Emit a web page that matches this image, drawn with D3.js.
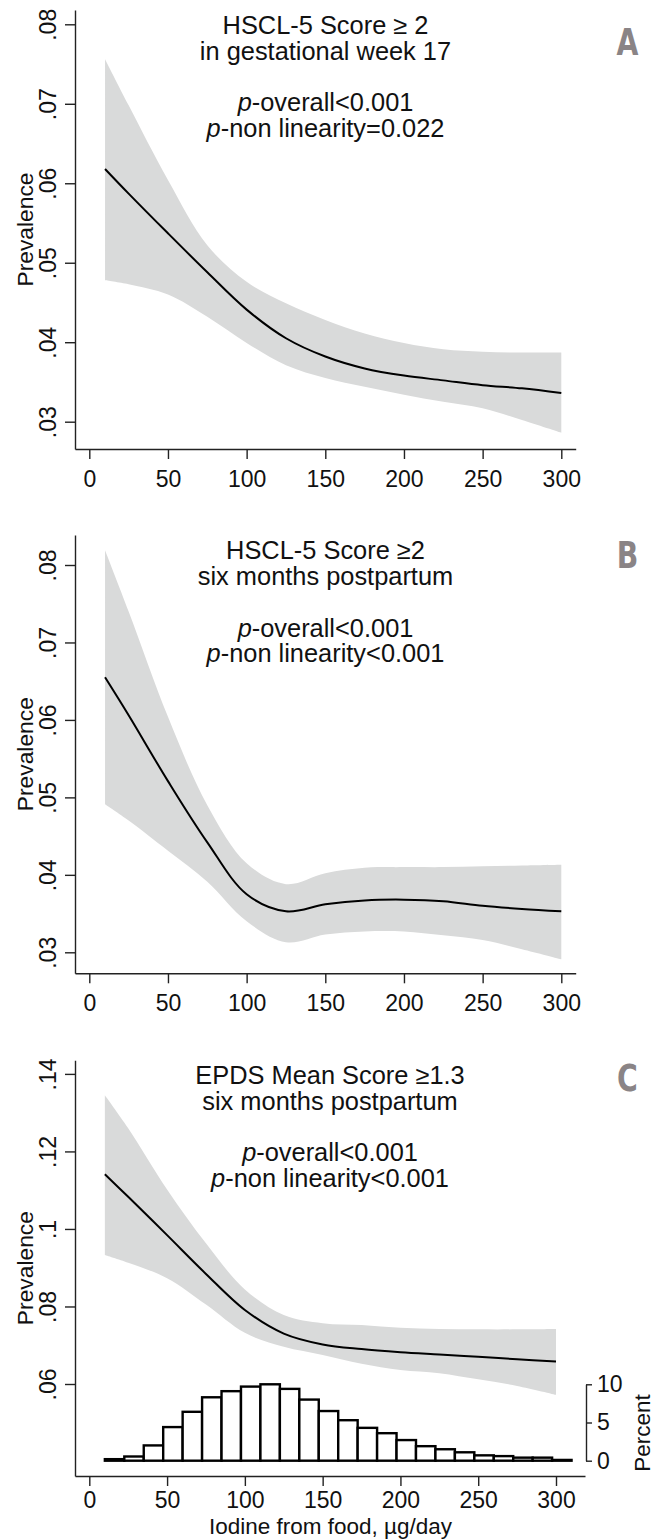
<!DOCTYPE html>
<html>
<head>
<meta charset="utf-8">
<script src="https://cdn.jsdelivr.net/npm/d3@7"></script>
<style>
  body { margin: 0; background: #fff; }
  text { font-family: "Liberation Sans", Arial, sans-serif; fill: #111; }
  .letter { font-family: "Liberation Sans Narrow", "DejaVu Sans Condensed", sans-serif; font-weight: bold; fill: #8a8486; }
</style>
</head>
<body>
<svg id="chart" width="655" height="1539"></svg>
<script>
//Iodine intake grid (µg/day) where the spline fits were read.
const xGrid = [10, 25, 50, 75, 100, 125, 150, 175, 200, 225, 250, 275, 300];

//Panel A - HSCL-5 week 17
const aFit = [.0618, .0587, .0537, .0488, .0441, .0405, .0382, .0367, .0358, .0352, .0346, .0342, .0336];
const aHi  = [.0756, .0698, .0604, .0522, .0476, .0449, .0428, .0411, .0399, .0391, .0388, .0387, .0387];
const aLo  = [.0478, .0473, .0460, .0432, .0399, .0371, .0355, .0344, .0334, .0325, .0317, .0302, .0286];

//Panel B - HSCL-5 six months postpartum
const bFit = [.0655, .0606, .0521, .0442, .0375, .0353, .0362, .0367, .0368, .0366, .0360, .0356, .0353];
const bHi  = [.0819, .0740, .0604, .0490, .0415, .0388, .0402, .0409, .0410, .0410, .0411, .0412, .0413];
const bLo  = [.0491, .0470, .0431, .0391, .0340, .0313, .0323, .0327, .0327, .0322, .0316, .0304, .0291];

//Panel C - EPDS six months postpartum
const cFit = [.1141, .1083, .0984, .0884, .0791, .0730, .0702, .0690, .0682, .0676, .0670, .0664, .0658];
const cHi  = [.1345, .1260, .1102, .0963, .0844, .0778, .0757, .0752, .0745, .0742, .0741, .0741, .0742];
const cLo  = [.0933, .0913, .0873, .0805, .0732, .0696, .0675, .0652, .0636, .0628, .0612, .0595, .0572];

//Histogram of iodine intake (percent per 12.5 µg/day bin, starting at 10)
const histStart = 10;
const histBin = 12.5;
const histPct = [0.2, 0.55, 2.0, 4.4, 6.4, 8.3, 9.1, 9.7, 10.0, 9.4, 8.0, 6.5, 5.3, 4.3, 3.6, 2.7, 1.9, 1.5, 1.1, 0.7, 0.6, 0.4, 0.4, 0.1];

const xTicks = [0, 50, 100, 150, 200, 250, 300];
const abTicks = [.03, .04, .05, .06, .07, .08];
const cTicks = [.06, .08, .10, .12, .14];
const pctTicks = [0, 5, 10];

const svg = d3.select('#chart');
const labelFont = '"Liberation Sans", Arial, sans-serif';

//Draw one panel. The layout numbers are pixel anchors for the scales.
function panel(cfg) {
  let g = svg.append('g');

  let x = d3.scaleLinear().domain([0, 300]).range([cfg.x0, cfg.x300]);
  let y = d3.scaleLinear().domain([cfg.vLo, cfg.vHi]).range([cfg.pLo, cfg.pHi]);
  //axis scales stretched to the full length of the drawn axis lines
  let xAx = x.copy().domain([x.invert(cfg.left), x.invert(cfg.right)]).range([cfg.left, cfg.right]);
  let yAx = y.copy().domain([y.invert(cfg.bottom), y.invert(cfg.top)]).range([cfg.bottom, cfg.top]);

  let rows = xGrid.map((d, i) => ({x: d, fit: cfg.fit[i], lo: cfg.lo[i], hi: cfg.hi[i]}));

  //histogram under the curves (panel C only)
  if (cfg.hist) {
    let hy = d3.scaleLinear().domain([0, 10]).range([cfg.hist.p0, cfg.hist.p10]);
    g.append('g').selectAll('rect')
      .data(histPct)
      .join('rect')
      .attr('x', (d, i) => x(histStart + i * histBin))
      .attr('width', (d, i) => x(histStart + (i + 1) * histBin) - x(histStart + i * histBin))
      .attr('y', d => hy(d))
      .attr('height', d => hy(0) - hy(d))
      .attr('fill', '#fff')
      .attr('stroke', '#000')
      .attr('stroke-width', 2.4);

    let pAxis = g.append('g')
      .attr('transform', 'translate(' + cfg.hist.axisX + ',0)')
      .call(d3.axisRight(hy).tickValues(pctTicks).tickSize(6).tickSizeOuter(0).tickPadding(5));
    pAxis.selectAll('path, line').attr('stroke', '#222').attr('stroke-width', 1.4);
    pAxis.selectAll('text').style('font-size', '23px').attr('fill', '#111').style('font-family', labelFont);

    g.append('text')
      .text('Percent')
      .style('font-size', '22.5px')
      .attr('text-anchor', 'middle')
      .attr('transform', 'translate(' + cfg.hist.labelX + ',' + cfg.hist.labelY + ')rotate(-90)');
  }

  //confidence band
  let area = d3.area()
    .x(d => x(d.x))
    .y0(d => y(d.lo))
    .y1(d => y(d.hi))
    .curve(d3.curveCatmullRom.alpha(0.5));
  g.append('path').attr('d', area(rows)).attr('fill', '#d9dada');

  //fitted prevalence
  let line = d3.line()
    .x(d => x(d.x))
    .y(d => y(d.fit))
    .curve(d3.curveCatmullRom.alpha(0.5));
  g.append('path').attr('d', line(rows)).attr('fill', 'none').attr('stroke', '#000').attr('stroke-width', 2);

  //x axis
  let xg = g.append('g')
    .attr('transform', 'translate(0,' + cfg.bottom + ')')
    .call(d3.axisBottom(xAx).tickValues(xTicks).tickSize(10).tickSizeOuter(0));
  xg.selectAll('path, line').attr('stroke', '#222').attr('stroke-width', 1.4);
  xg.selectAll('text')
    .style('font-size', '23px')
    .style('font-family', labelFont)
    .attr('fill', '#111')
    .attr('y', cfg.xLabelDy).attr('dy', 0);

  //y axis with rotated labels
  let yg = g.append('g')
    .attr('transform', 'translate(' + cfg.left + ',0)')
    .call(d3.axisLeft(yAx).tickValues(cfg.ticks).tickSize(10).tickSizeOuter(0)
      .tickFormat(d => String(+d.toFixed(2)).replace(/^0/, '')));
  yg.selectAll('path, line').attr('stroke', '#222').attr('stroke-width', 1.4);
  yg.selectAll('text')
    .style('font-size', '23px')
    .style('font-family', labelFont)
    .attr('fill', '#111')
    .attr('x', 0).attr('dy', 0)
    .attr('text-anchor', 'middle')
    .attr('transform', 'translate(-19,0)rotate(-90)');

  g.append('text')
    .text('Prevalence')
    .style('font-size', '22.8px')
    .attr('text-anchor', 'middle')
    .attr('transform', 'translate(33,' + ((cfg.top + cfg.bottom) / 2) + ')rotate(-90)');

  //title block
  let t = g.append('text').attr('text-anchor', 'middle').style('font-size', '25.4px');
  t.append('tspan').attr('x', cfg.titleX).attr('y', cfg.titleY).text(cfg.title[0]);
  t.append('tspan').attr('x', cfg.titleX).attr('y', cfg.titleY + 25.8).text(cfg.title[1]);
  let p1 = t.append('tspan').attr('x', cfg.titleX).attr('y', cfg.titleY + 77.4);
  p1.append('tspan').style('font-style', 'italic').text('p');
  p1.append('tspan').text('-overall' + cfg.pOverall);
  let p2 = g.append('text').attr('text-anchor', 'middle').style('font-size', '25.4px')
    .attr('x', cfg.titleX).attr('y', cfg.titleY + 103);
  p2.append('tspan').style('font-style', 'italic').text('p');
  p2.append('tspan').text('-non linearity' + cfg.pNonlin);

  //panel letter, squeezed to look like a narrow bold face
  g.append('text').attr('class', 'letter')
    .attr('text-anchor', 'middle')
    .attr('transform', 'translate(627.5,' + cfg.letterY + ')scale(0.85,1)')
    .style('font-size', '37px')
    .text(cfg.letter);

  return g;
}

panel({
  fit: aFit, lo: aLo, hi: aHi, ticks: abTicks,
  x0: 89.3, x300: 561.3, left: 75, right: 575.7,
  vLo: .03, vHi: .08, pLo: 421.7, pHi: 24.3, top: 10, bottom: 449, xLabelDy: 37.5,
  title: ['HSCL-5 Score \u2265 2', 'in gestational week 17'],
  pOverall: '<0.001', pNonlin: '=0.022',
  titleX: 325.5, titleY: 34, letter: 'A', letterY: 55
});

panel({
  fit: bFit, lo: bLo, hi: bHi, ticks: abTicks,
  x0: 89.3, x300: 561.3, left: 75, right: 575.7,
  vLo: .03, vHi: .08, pLo: 952.3, pHi: 565, top: 535, bottom: 973.3, xLabelDy: 37.5,
  title: ['HSCL-5 Score \u22652', 'six months postpartum'],
  pOverall: '<0.001', pNonlin: '<0.001',
  titleX: 325.5, titleY: 559.3, letter: 'B', letterY: 568.3
});

panel({
  fit: cFit, lo: cLo, hi: cHi, ticks: cTicks,
  x0: 89.3, x300: 556, left: 75, right: 585,
  vLo: .06, vHi: .14, pLo: 1384, pHi: 1073.9, top: 1060.2, bottom: 1476, xLabelDy: 32,
  title: ['EPDS Mean Score \u22651.3', 'six months postpartum'],
  pOverall: '<0.001', pNonlin: '<0.001',
  titleX: 330, titleY: 1084, letter: 'C', letterY: 1091,
  hist: {p0: 1460.7, p10: 1384.3, axisX: 586, labelX: 650, labelY: 1433}
});

//x axis title for the stacked figure
svg.append('text')
  .text('Iodine from food, \u00b5g/day')
  .style('font-size', '22.5px')
  .attr('text-anchor', 'middle')
  .attr('x', 330.5).attr('y', 1534);
</script>
</body>
</html>
